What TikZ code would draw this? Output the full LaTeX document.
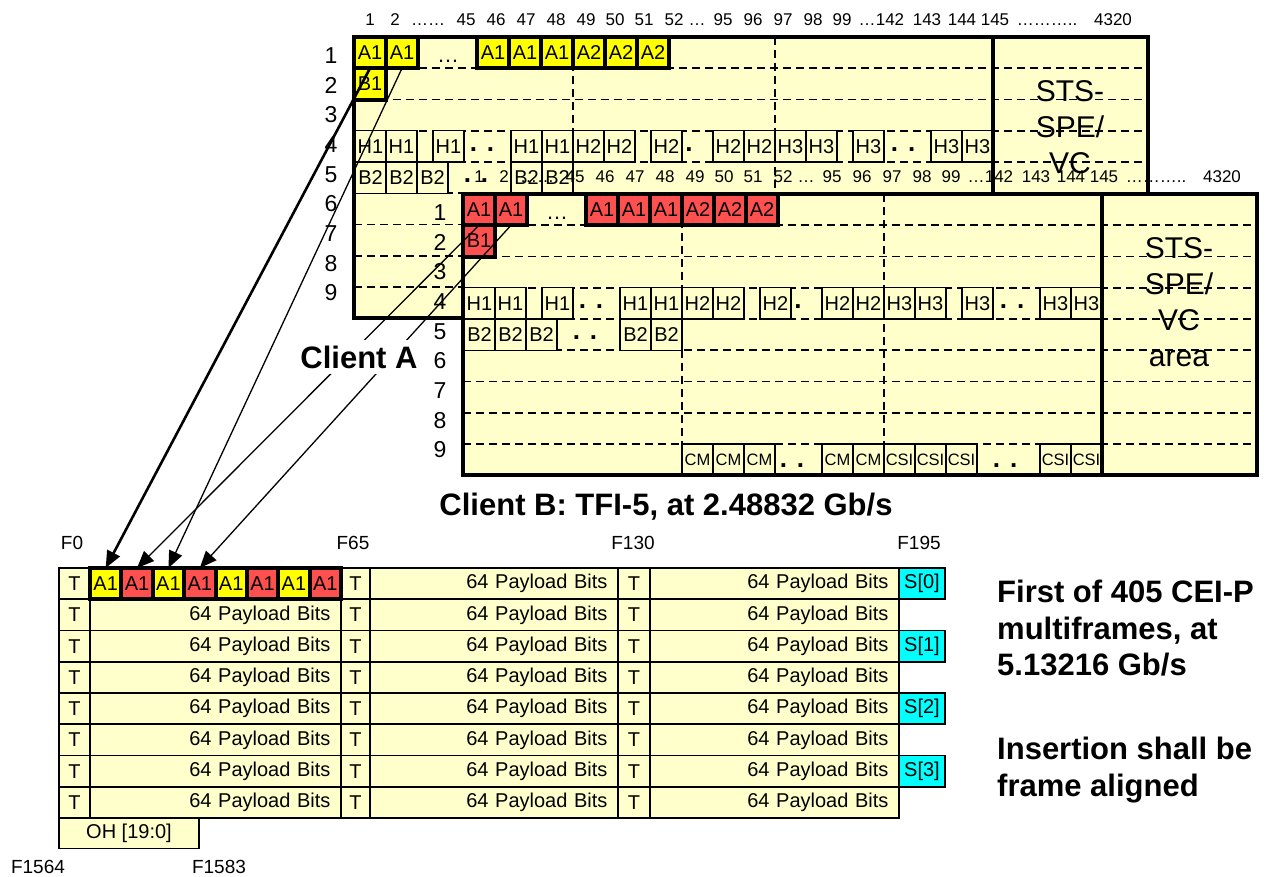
\documentclass[tikz,border=0pt]{standalone}
\usepackage{fontspec}
\setmainfont{Liberation Sans}
\usetikzlibrary{arrows.meta,positioning}

\definecolor{paleyellow}{HTML}{FFFFCC}
\definecolor{brightyellow}{HTML}{FFFF00}
\definecolor{clientred}{HTML}{FF5050}
\definecolor{stuffcyan}{HTML}{00FFFF}

\tikzset{
  cell/.style={rectangle, draw, fill=paleyellow, anchor=north west, inner sep=0pt, outer sep=0pt,
    minimum width=31pt, minimum height=31.25pt, line width=1.2pt, font=\fontsize{20}{24}\selectfont},
  small cell/.style={cell, font=\fontsize{16.5}{20}\selectfont},
  sync/.style={cell, fill=#1, line width=4pt, minimum width=32pt},
  mf cell/.style={cell, line width=1.8pt},
  payload/.style={mf cell, text width=#1, align=right, inner xsep=10.5pt},
  hdr/.style={anchor=base, inner sep=0pt, font=\fontsize{17}{20}\selectfont},
  rowno/.style={anchor=base, inner sep=0pt, font=\fontsize{23}{26}\selectfont},
  gapdots/.style={anchor=base, inner sep=0pt, font=\fontsize{26}{28}\selectfont\bfseries},
  ellip/.style={anchor=base, inner sep=0pt, font=\fontsize{22}{24}\selectfont},
  areatext/.style={anchor=north, align=center, inner sep=0pt, font=\fontsize{30}{36}\selectfont},
  grid line/.style={dash pattern=on 8pt off 5pt, line width=1.6pt},
  frame line/.style={line width=4pt},
  flabel/.style={inner sep=0pt, font=\fontsize{19}{22}\selectfont},
  bigtext/.style={inner sep=0pt, font=\fontsize{31}{36.5}\selectfont\bfseries},
  feed/.style={-{Triangle[length=17pt,width=14pt]}, line width=1.3pt}
}

% row 9 of the client B frame
\newcommand{\csirow}[1]{%
  \foreach \x/\t [count=\i] in {573/CM,604/CM,635/CM,713/CM,744/CM,775/CSI,806/CSI,837/CSI,931/CSI,962/CSI}
    \node[small cell] (#1-s\i) at (\x,287) {\t};
  \node[gapdots] (#1-sd1) at (683,310) {.\hspace{10pt}.};
  \node[gapdots] (#1-sd2) at (896,310) {.\hspace{10pt}.};
}

% one STS frame: #1 name, #2 colour of A1/A2/B1, #3 area text, #4 extra cells
\newcommand{\stsframe}[4]{%
  \fill[paleyellow] (354,37) rectangle (1148,318.25);
  \node[areatext] (#1-area) at (1070,80) {#3};
  \foreach \k in {1,...,8}
    \draw[grid line] (354,37+31.25*\k) -- (1148,37+31.25*\k);
  \draw[grid line] (573,37) -- (573,318.25);
  \draw[grid line] (775,37) -- (775,318.25);
  \foreach \x/\t [count=\i] in {355/H1,386/H1,433/H1,511/H1,542/H1,573/H2,604/H2,651/H2,713/H2,744/H2,775/H3,806/H3,853/H3,931/H3,962/H3}
    \node[cell] (#1-h\i) at (\x,130.75) {\t};
  \foreach \x [count=\i] in {355,386,417,511,542}
    \node[cell] (#1-bip\i) at (\x,162) {B2};
  \node[gapdots] (#1-d1) at (482,151) {.\hspace{10pt}.};
  \node[gapdots] (#1-d2) at (689,151) {.};
  \node[gapdots] (#1-d3) at (903,151) {.\hspace{10pt}.};
  \node[gapdots] (#1-d4) at (476,182) {.\hspace{10pt}.};
  \node[ellip] (#1-d5) at (448,62) {…};
  #4
  \node[sync=#2] (#1-a1) at (354,37) {A1};
  \node[sync=#2] (#1-a2) at (386,37) {A1};
  \node[sync=#2] (#1-b1) at (354,68.25) {B1};
  \foreach \t [count=\i] in {A1,A1,A1,A2,A2,A2}
    \node[sync=#2] (#1-g\i) at (445+32*\i,37) {\t};
  \draw[frame line] (993,37) -- (993,318.25);
  \draw[frame line] (354,37) rectangle (1148,318.25);
  \foreach \x/\t [count=\i] in {370/1,395/2,428/……,466/45,496/46,526/47,556/48,586/49,615/50,644/51,674/52,697/…,723/95,753/96,783/97,813/98,842/99,867/…,890/142,927/143,962/144,995/145,1047/………..,1113/4320}
    \node[hdr] (#1-c\i) at (\x,25.5) {\t};
  \foreach \i in {1,...,9}
    \node[rowno] (#1-r\i) at (331,63.3+29.7*\i-29.7) {\i};
}

\begin{document}
\begin{tikzpicture}[x=1pt, y=-1pt]
  \useasboundingbox (0,0) rectangle (1266,876);

  % client A and client B frames
  \stsframe{fa}{brightyellow}{STS-\\SPE/\\VC}{}
  \begin{scope}[shift={(109,157)}]
    \stsframe{fb}{clientred}{STS-\\SPE/\\VC\\area}{\csirow{fb}}
  \end{scope}

  % CEI-P multiframe
  \foreach \r in {0,...,7} {
    \node[mf cell] (mf-t\r) at (59,568+31.25*\r) {T};
    \node[mf cell, minimum width=29pt] (mf-u\r) at (341,568+31.25*\r) {T};
    \node[payload=227pt] (mf-q\r) at (370,568+31.25*\r) {64 Payload Bits};
    \node[mf cell, minimum width=32pt] (mf-v\r) at (618,568+31.25*\r) {T};
    \node[payload=228pt] (mf-w\r) at (650,568+31.25*\r) {64 Payload Bits};
  }
  \foreach \r in {1,...,7}
    \node[payload=230pt] (mf-p\r) at (90,568+31.25*\r) {64 Payload Bits};
  \foreach \c [count=\i] in {brightyellow,clientred,brightyellow,clientred,brightyellow,clientred,brightyellow,clientred}
    \node[sync=\c, minimum width=31.375pt] (mf-a\i) at (58.625+31.375*\i,568) {A1};
  \foreach \r/\k in {0/0,2/1,4/2,6/3}
    \node[mf cell, fill=stuffcyan, minimum width=46pt] (mf-s\k) at (899,568+31.25*\r) {S[\k]};
  \node[mf cell, minimum width=140pt, minimum height=30.5pt] (mf-oh) at (59,818) {OH [19:0]};

  \node[flabel] (f0) at (72,543) {F0};
  \node[flabel] (f65) at (353,543) {F65};
  \node[flabel] (f130) at (633,543) {F130};
  \node[flabel] (f195) at (919,543) {F195};
  \node[flabel] (f1564) at (38,867) {F1564};
  \node[flabel] (f1583) at (219,867) {F1583};

  % A1 bytes into the multiframe
  \draw[feed, line width=2.6pt] (fa-a1.south) -- (mf-a1.north);
  \draw[feed] (fa-a2.south) -- (mf-a3.north);
  \draw[feed] (fb-a1.south) -- (mf-a2.north);
  \draw[feed] (fb-a2.south) -- (mf-a4.north);

  \node[bigtext, fill=white, inner sep=6pt] (client-a) at (359,357) {Client A};
  \node[bigtext] (client-b) at (666,507) {Client B: TFI-5, at 2.48832 Gb/s};
  \node[bigtext, anchor=north west, align=left] (note-rate) at (997,580) {First of 405 CEI-P\\multiframes, at\\5.13216 Gb/s};
  \node[bigtext, anchor=north west, align=left] (note-align) at (997,737) {Insertion shall be\\frame aligned};
\end{tikzpicture}
\end{document}
